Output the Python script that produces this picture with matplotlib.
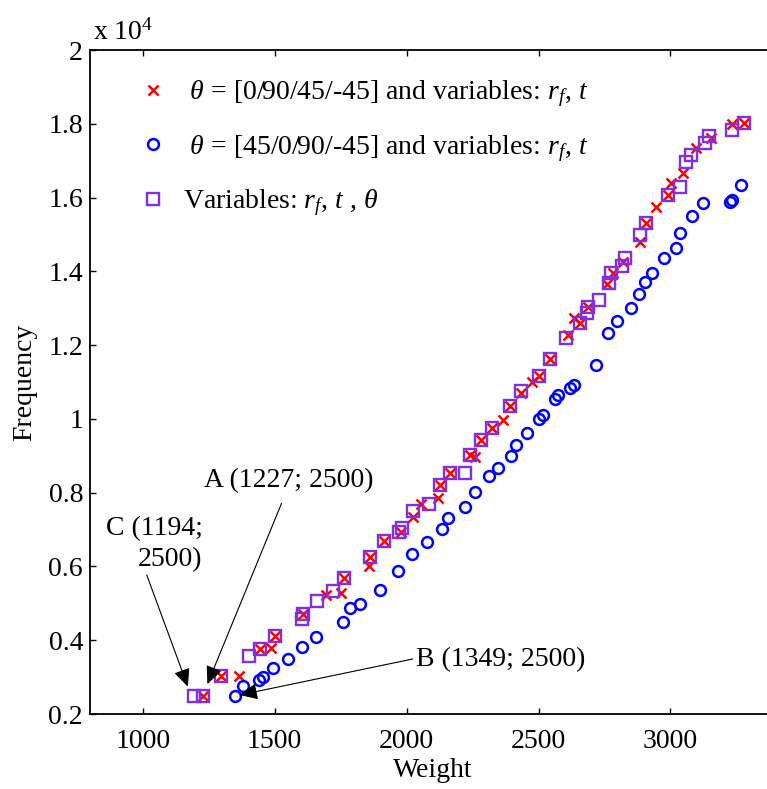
import matplotlib
matplotlib.use("Agg")
import matplotlib.pyplot as plt

plt.rcParams['font.family'] = ['Liberation Serif', 'DejaVu Serif']
plt.rcParams['mathtext.fontset'] = 'custom'
plt.rcParams['mathtext.rm'] = 'Liberation Serif'
plt.rcParams['mathtext.it'] = 'Liberation Serif:italic'

# Series 1: theta = [0/90/45/-45], variables r_f, t  (red x)
x_w = [1227, 1295, 1366, 1445, 1487, 1503, 1609, 1695, 1752, 1761, 1858, 1863, 1914, 1977, 2023,
       2055, 2119, 2126, 2163, 2239, 2258, 2283, 2325, 2365, 2390, 2435, 2476, 2501, 2545, 2611,
       2633, 2656, 2686, 2759, 2782, 2820, 2886, 2906, 2946, 2990, 3003, 3047, 3098, 3155, 3233, 3277]
x_f = [2500, 3038, 3038, 3754, 3797, 4115, 4703, 5226, 5272, 5695, 6012, 6264, 6690, 6930, 7341,
       7680, 7856, 8208, 8534, 9021, 8976, 9428, 9745, 9970, 10350, 10710, 11009, 11163, 11632, 12275,
       12727, 12592, 13040, 13657, 13948, 14262, 14804, 15303, 15753, 16070, 16387, 16675, 17336, 17607, 17995, 18030]

# Series 2: theta = [45/0/90/-45], variables r_f, t  (blue o)
o_w = [1349, 1379, 1440, 1455, 1495, 1551, 1604, 1658, 1758, 1787, 1824, 1901, 1969, 2020, 2078,
       2135, 2156, 2220, 2258, 2312, 2346, 2397, 2416, 2456, 2501, 2517, 2561, 2573, 2618, 2633,
       2719, 2763, 2797, 2852, 2881, 2902, 2931, 2974, 3020, 3037, 3083, 3123, 3226, 3234, 3269]
o_f = [2500, 2759, 2922, 2995, 3239, 3491, 3808, 4079, 4486, 4860, 4990, 5370, 5869, 6332, 6657,
       7007, 7305, 7620, 8027, 8452, 8661, 8994, 9293, 9610, 9989, 10106, 10540, 10650, 10830, 10919,
       11461, 12337, 12654, 12999, 13386, 13720, 13964, 14354, 14625, 15032, 15501, 15845, 15880, 15935, 16341]

# Series 3: variables r_f, t, theta  (purple squares)
sq_w = [1194, 1227, 1295, 1401, 1445, 1503, 1603, 1609, 1661, 1720, 1761, 1863, 1914, 1970, 1984,
        2024, 2084, 2126, 2163, 2220, 2239, 2283, 2325, 2390, 2435, 2501, 2545, 2605, 2656, 2683,
        2687, 2729, 2767, 2776, 2818, 2829, 2883, 2906, 2990, 3037, 3058, 3077, 3130, 3146, 3233, 3277]
sq_f = [2500, 2500, 3038, 3581, 3754, 4115, 4575, 4703, 5050, 5335, 5695, 6264, 6690, 6942, 7034,
        7503, 7699, 8208, 8534, 8525, 9021, 9428, 9745, 10350, 10757, 11163, 11632, 12201, 12592, 12863,
        13026, 13224, 13693, 13956, 14145, 14354, 14986, 15303, 16070, 16295, 16957, 17154, 17472, 17670, 17832, 18030]

labels = [r" $\theta$ = [0/90/45/-45] and variables: $r_f$, $t$",
          r" $\theta$ = [45/0/90/-45] and variables: $r_f$, $t$",
          r"Variables: $r_f$, $t$ , $\theta$"]

x_ticks = [1000, 1500, 2000, 2500, 3000]
y_ticks = [2000, 4000, 6000, 8000, 10000, 12000, 14000, 16000, 18000, 20000]
y_ticklabels = ["0.2", "0.4", "0.6", "0.8", "1", "1.2", "1.4", "1.6", "1.8", "2"]

# annotations: (text, text position, arrow start, arrow tip)
ann_A = ("A (1227; 2500)", (1553, 8317), (1526, 7712), (1245, 2810))
ann_B = ("B (1349; 2500)", (2035, 3470), (2023, 3491), (1367, 2515))
ann_C = ("C (1194;\n2500)", (1226, 6609), (1015, 5768), (1171, 2740))

RED = '#FF0000'
BLUE = '#0000FF'
PURPLE = '#7F2FE6'
FS = 20

fig = plt.figure(figsize=(7.67, 7.89), dpi=100)
ax = fig.add_axes([90 / 767, 75 / 789, 686 / 767, 664 / 789])

h1, = ax.plot(x_w, x_f, linestyle='none', marker='x', color=RED, ms=7.5, mew=1.8)
h2, = ax.plot(o_w, o_f, linestyle='none', marker='o', mfc='none', mec=BLUE, ms=7.8, mew=1.8)
h3, = ax.plot(sq_w, sq_f, linestyle='none', marker='s', mfc='none', mec=PURPLE, ms=8.3, mew=1.7)

ax.set_xlim(800, 3400)
ax.set_ylim(2000, 20000)
ax.set_xticks(x_ticks)
ax.set_xticklabels([str(v) for v in x_ticks])
ax.set_yticks(y_ticks)
ax.set_yticklabels(y_ticklabels)
ax.tick_params(direction='in', top=True, right=True, length=4, width=1, labelsize=FS)
ax.tick_params(axis='x', pad=11)
ax.tick_params(axis='y', pad=5)
for s in ax.spines.values():
    s.set_linewidth(1.3)

ax.set_xlabel("Weight", fontsize=FS, labelpad=3)
ax.set_ylabel("Frequency", fontsize=FS, labelpad=8)
ax.text(0.005, 1.006, r"x 10$^{4}$", transform=ax.transAxes, fontsize=FS, ha='left', va='bottom')

leg = ax.legend([h1, h2, h3], labels, loc='upper left', bbox_to_anchor=(0.0714, 0.957),
                frameon=False, fontsize=FS, handlelength=1.0, handletextpad=0.6,
                labelspacing=0.86, borderpad=0, borderaxespad=0)

for txt, tpos, start, tip in (ann_A, ann_B, ann_C):
    ax.annotate("", xy=tip, xytext=start,
                arrowprops=dict(arrowstyle='-|>,head_length=0.55,head_width=0.25', color='k',
                                lw=0.8, shrinkA=0, shrinkB=0, mutation_scale=20))
ax.text(*ann_A[1], ann_A[0], fontsize=FS, ha='center', va='center')
ax.text(*ann_B[1], ann_B[0], fontsize=FS, ha='left', va='center')
ax.text(*ann_C[1], ann_C[0], fontsize=FS, ha='right', va='center', multialignment='right', linespacing=1.3)

fig.savefig("out.png", dpi=100)
